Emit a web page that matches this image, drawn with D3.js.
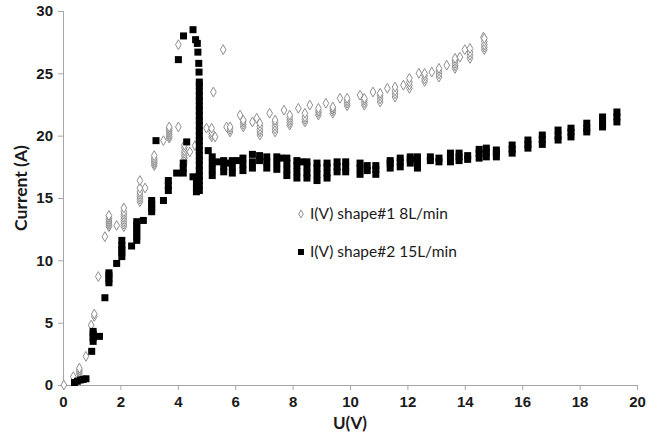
<!DOCTYPE html>
<html>
<head>
<meta charset="utf-8">
<script src="https://cdn.jsdelivr.net/npm/d3@7"></script>
<style>
  body { margin: 0; background: #fff; }
  svg { display: block; font-family: Lato, "Liberation Sans", sans-serif; }
  .axis path, .axis line { stroke: #a6a6a6; }
  .axis text { font-weight: bold; font-size: 15px; fill: #1a1a1a; }
</style>
</head>
<body>
<svg id="chart"></svg>
<script>
const WIDTH = 660;
const HEIGHT = 439;

// each row: [U, I, I, ...] -- several readings taken at the same voltage
const shape1 = [
  [0.03, 0], [0.36, 0.67], [0.57, 0.9, 1.05, 1.2, 1.35], [0.8, 2.3], [0.98, 4.8],
  [1.09, 5.5, 5.7], [1.23, 8.7], [1.46, 11.9],
  [1.6, 12.7, 12.85, 13.0, 13.15, 13.3, 13.45, 13.6], [1.87, 12.8],
  [2.12, 12.7, 12.9, 13.1, 13.3, 13.5, 13.7, 13.9, 14.2],
  [2.68, 14.7, 14.9, 15.1, 15.3, 15.5, 15.8, 16.4], [2.86, 15.8],
  [3.18, 17.6, 17.75, 17.9, 18.05, 18.2, 18.4], [3.5, 19.6],
  [3.7, 19.8, 19.95, 20.1, 20.25, 20.4, 20.55, 20.7], [4.02, 20.7, 27.3],
  [4.23, 17.8, 18.0, 18.2, 18.4, 18.6, 18.8, 19.05, 19.25], [4.42, 18.7], [4.6, 19.2],
  [5.0, 20.6], [5.18, 19.9, 20.1, 20.3, 20.6], [5.3, 19.9], [5.24, 23.5], [5.58, 26.9],
  [5.7, 20.7], [5.82, 20.3, 20.5, 20.7], [6.17, 21.65], [6.28, 20.7, 20.9, 21.1, 21.25],
  [6.6, 21.1], [6.75, 21.4], [6.86, 20.05, 20.3, 20.5, 20.75, 21.0],
  [7.2, 21.8], [7.39, 20.3, 20.55, 20.8, 21.05, 21.25],
  [7.7, 22.05], [7.9, 20.85, 21.05, 21.25, 21.45, 21.65],
  [8.2, 22.2], [8.43, 21.1, 21.3, 21.5, 21.8],
  [8.6, 22.45], [8.9, 21.65, 21.85, 22.0, 22.2],
  [9.16, 22.6], [9.4, 21.8, 22.0, 22.15, 22.3],
  [9.65, 23.0], [9.9, 22.4, 22.6, 22.8, 23.0],
  [10.35, 23.25], [10.5, 22.45, 22.65, 22.85, 23.0],
  [10.8, 23.5], [11.05, 22.7, 22.95, 23.2, 23.4],
  [11.3, 23.8], [11.57, 23.1, 23.35, 23.6, 23.9],
  [11.86, 24.05], [12.07, 23.8, 24.05, 24.3, 24.6],
  [12.4, 25.0], [12.6, 24.35, 24.55, 24.8, 25.0],
  [12.85, 25.1], [13.1, 24.7, 24.95, 25.2, 25.4],
  [13.37, 25.65], [13.66, 25.4, 25.6, 25.8, 26.0, 26.2], [13.83, 26.3],
  [14.0, 26.9], [14.18, 26.2, 26.45, 26.7, 27.0],
  [14.65, 27.9], [14.68, 26.9, 27.1, 27.3, 27.55, 27.8]
];

const shape2 = [
  [0.4, 0.2], [0.5, 0.3], [0.6, 0.4], [0.7, 0.45], [0.8, 0.5], [1.0, 2.7],
  [1.05, 3.5, 3.8, 4.1, 4.3], [1.27, 3.9], [1.46, 7.0], [1.6, 8.2, 8.5, 8.8, 9.0],
  [1.87, 9.75], [2.05, 10.3, 10.6, 10.9, 11.2, 11.6], [2.39, 11.15],
  [2.57, 11.6, 11.9, 12.2, 12.5, 12.8, 13.1], [2.8, 13.2],
  [3.09, 13.9, 14.2, 14.5, 14.8], [3.24, 19.6], [3.5, 14.8], [3.67, 15.6, 16.0, 16.4],
  [3.96, 17.0], [4.02, 26.1], [4.19, 17.0, 17.4, 17.8], [4.2, 28.0], [4.31, 19.5],
  [4.53, 28.5, 16.7], [4.62, 27.7], [4.65, 15.5, 15.8, 16.2], [4.68, 27.4], [4.7, 26.7],
  [4.73, 25.8], [4.74, 25.1],
  [4.75, 24.3, 24.0, 23.6, 23.2, 22.8, 22.4, 22.0, 21.6, 21.2, 20.8, 20.4, 20.0,
    19.6, 19.2, 18.8, 18.4, 18.0, 17.6, 17.2, 16.8, 16.4, 16.0, 15.6],
  [5.06, 18.8], [5.2, 16.8, 17.3, 17.8, 18.3], [5.4, 17.9],
  [5.6, 17.1, 17.5, 18.0], [5.75, 17.8], [5.9, 17.0, 17.5, 18.0], [6.1, 18.0],
  [6.27, 17.2, 17.7, 18.2], [6.6, 17.4, 17.9, 18.5], [6.85, 18.0, 18.4],
  [7.1, 17.4, 17.9, 18.3], [7.45, 17.3, 17.8, 18.3], [7.6, 18.2],
  [7.8, 16.8, 17.3, 17.8, 18.2], [8.15, 16.6, 17.1, 17.6, 18.0], [8.3, 17.9],
  [8.5, 16.6, 17.0, 17.5, 17.9], [8.85, 16.4, 16.9, 17.4, 17.8],
  [9.2, 16.6, 17.0, 17.5, 17.8], [9.55, 17.1, 17.5, 17.9], [9.85, 17.1, 17.5, 17.9],
  [10.35, 16.9, 17.4, 17.8], [10.6, 17.2, 17.6], [10.9, 16.9, 17.3, 17.6],
  [11.4, 17.4, 17.8, 18.0], [11.75, 17.5, 17.9, 18.2], [12.1, 17.8, 18.1, 18.3],
  [12.35, 17.4, 17.8, 18.3], [12.8, 18.0, 18.3], [13.1, 17.9, 18.2],
  [13.5, 17.9, 18.3, 18.6], [13.8, 18.0, 18.3, 18.6], [14.1, 18.1, 18.4],
  [14.5, 18.2, 18.6, 18.9], [14.75, 18.3, 18.7, 19.0], [15.1, 18.3, 18.6, 18.85],
  [15.65, 18.6, 18.9, 19.25], [16.2, 19.0, 19.3, 19.65], [16.7, 19.3, 19.7, 20.05],
  [17.25, 19.65, 20.0, 20.45], [17.7, 19.9, 20.3, 20.6], [18.25, 20.3, 20.6, 21.0],
  [18.8, 20.7, 21.1, 21.5], [19.3, 21.1, 21.5, 21.9]
];

const xTicks = [0, 2, 4, 6, 8, 10, 12, 14, 16, 18, 20];
const yTicks = [0, 5, 10, 15, 20, 25, 30];
const legendLabels = ["I(V) shape#1 8L/min", "I(V) shape#2 15L/min"];

const toPoints = rows => rows.flatMap(r => r.slice(1).map(v => ({ u: r[0], i: v })));

const svg = d3.select("#chart")
  .attr("width", WIDTH)
  .attr("height", HEIGHT);

const x = d3.scaleLinear().domain([0, 20]).range([63, 637]);
const y = d3.scaleLinear().domain([0, 30]).range([385, 11]);

svg.append("g")
  .attr("class", "axis")
  .attr("transform", "translate(0,385)")
  .call(d3.axisBottom(x).tickValues(xTicks).tickSize(5).tickPadding(6))
  .call(g => g.select(".domain").attr("d", `M${x(0)},0.5H${x(20)}`));

svg.append("g")
  .attr("class", "axis")
  .attr("transform", "translate(63,0)")
  .call(d3.axisLeft(y).tickValues(yTicks).tickSize(5).tickPadding(5))
  .call(g => g.select(".domain").attr("d", `M0.5,${y(0)}V${y(30)}`));

// diamonds (shape#1)
const diamond = d3.symbol().type(d3.symbolDiamond).size(28);
svg.append("g")
  .selectAll("path")
  .data(toPoints(shape1))
  .join("path")
  .attr("d", diamond)
  .attr("transform", d => `translate(${x(d.u)},${y(d.i)})`)
  .attr("fill", "#fff")
  .attr("stroke", "#8f8f8f")
  .attr("stroke-width", 1);

// squares (shape#2)
const sq = 7;
svg.append("g")
  .selectAll("rect")
  .data(toPoints(shape2))
  .join("rect")
  .attr("x", d => x(d.u) - sq / 2)
  .attr("y", d => y(d.i) - sq / 2)
  .attr("width", sq)
  .attr("height", sq)
  .attr("fill", "#000");

// legend
const legend = svg.append("g");
legend.append("path")
  .attr("d", d3.symbol().type(d3.symbolDiamond).size(18))
  .attr("transform", "translate(301,214)")
  .attr("fill", "#fff")
  .attr("stroke", "#8f8f8f");
legend.append("rect")
  .attr("x", 298).attr("y", 249).attr("width", 6).attr("height", 6)
  .attr("fill", "#000");
legend.selectAll("text")
  .data(legendLabels)
  .join("text")
  .attr("x", 310)
  .attr("y", (d, k) => 219 + k * 38)
  .attr("font-size", 15.5)
  .attr("fill", "#1a1a1a")
  .text(d => d);

// axis titles
svg.append("text")
  .attr("x", 350)
  .attr("y", 429)
  .attr("text-anchor", "middle")
  .attr("font-size", 17)
  .attr("font-weight", "bold")
  .attr("fill", "#1a1a1a")
  .text("U(V)");

svg.append("text")
  .attr("transform", "translate(27,188) rotate(-90)")
  .attr("text-anchor", "middle")
  .attr("font-size", 17.5)
  .attr("font-weight", "bold")
  .attr("fill", "#1a1a1a")
  .text("Current (A)");
</script>
</body>
</html>
